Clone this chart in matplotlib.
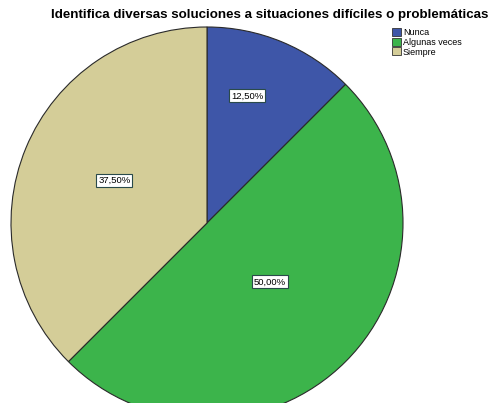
import numpy as np
import matplotlib.pyplot as plt
from matplotlib.patches import Patch

categories = ["Nunca", "Algunas veces", "Siempre"]
values = [12.5, 50.0, 37.5]
labels = ["12,50%", "50,00%", "37,50%"]
colors = ["#3E56A8", "#3CB44B", "#D4CD98"]
label_dist = [0.68, 0.44, 0.52]
label_shift = [5, 2, -2]  # degrees

plt.rcParams['font.family'] = ['Liberation Sans', 'DejaVu Sans']

fig = plt.figure(figsize=(4.9, 4.03), dpi=100)
ax = fig.add_axes([11 / 490, -16 / 403, 392 / 490, 392 / 403])
wedges, _ = ax.pie(values, colors=colors, startangle=90, counterclock=False,
                   wedgeprops=dict(edgecolor="#2a2a2a", linewidth=0.8))
ax.set_xlim(-1, 1)
ax.set_ylim(-1, 1)
ax.set_aspect("equal")
ax.axis("off")

for w, lab, d, s in zip(wedges, labels, label_dist, label_shift):
    ang = np.deg2rad((w.theta1 + w.theta2) / 2 + s)
    ax.text(d * np.cos(ang), d * np.sin(ang), lab, ha="center", va="center",
            fontsize=6.8,
            bbox=dict(boxstyle="square,pad=0.2", facecolor="white",
                      edgecolor="#2a4a4a", linewidth=0.8))

fig.text(0.55, 0.962, "Identifica diversas soluciones a situaciones difíciles o problemáticas",
         ha="center", va="center", fontsize=9.6, fontweight="bold")

handles = [Patch(facecolor=c, edgecolor="#333333", linewidth=0.6) for c in colors]
fig.legend(handles, categories, loc="upper left", bbox_to_anchor=(0.8, 0.93),
           frameon=False, fontsize=6.5, handlelength=1.0, handleheight=1.0,
           handletextpad=0.2, labelspacing=0.05, borderpad=0, borderaxespad=0)

fig.savefig("out.png", dpi=100)
